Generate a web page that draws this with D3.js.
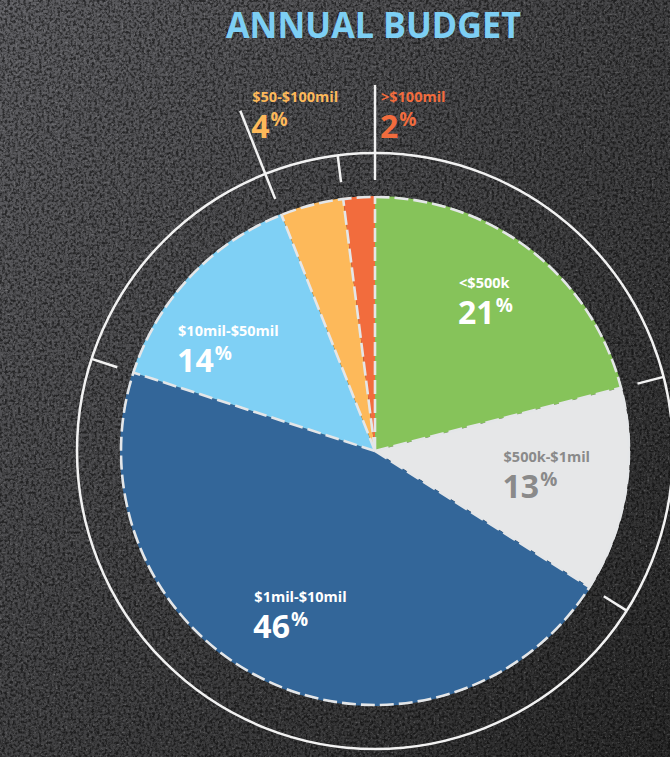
<!DOCTYPE html>
<html><head><meta charset="utf-8">
<script src="https://cdn.jsdelivr.net/npm/d3@7"></script>
<style>html,body{margin:0;padding:0;background:#3a3a3a;overflow:hidden}svg{display:block}</style>
</head><body>
<svg id="chart" width="670" height="757"></svg>
<script>
const title = "ANNUAL BUDGET";
const categories = ["<$500k", "$500k-$1mil", "$1mil-$10mil", "$10mil-$50mil", "$50-$100mil", ">$100mil"];
const values = [21, 13, 46, 14, 4, 2];
const sliceColors = ["#86c35a", "#e6e7e8", "#336699", "#7fd0f5", "#fdb95a", "#f26c3d"];
const labelColors = ["#ffffff", "#8a8a8a", "#ffffff", "#ffffff", "#fdb95a", "#f26c3d"];
const outsideLabels = [false, false, false, false, true, true];

const W = 670, H = 757;
const cx = 375, cy = 451, R = 255, ringR = 298;
const svg = d3.select("#chart");
const defs = svg.append("defs");

// background
const bg = defs.append("linearGradient").attr("id", "bg").attr("x1", 0).attr("y1", 0).attr("x2", 1).attr("y2", 1);
bg.append("stop").attr("offset", 0).attr("stop-color", "#606064");
bg.append("stop").attr("offset", 0.45).attr("stop-color", "#464648");
bg.append("stop").attr("offset", 1).attr("stop-color", "#2a2a2a");
const fDark = defs.append("filter").attr("id", "nd").attr("x", 0).attr("y", 0).attr("width", 1).attr("height", 1);
fDark.append("feTurbulence").attr("type", "fractalNoise").attr("baseFrequency", 0.38).attr("numOctaves", 3).attr("seed", 4);
fDark.append("feColorMatrix").attr("type", "matrix").attr("values", "0 0 0 0 0  0 0 0 0 0  0 0 0 0 0  3.2 0 0 0 -1.3");
const fLight = defs.append("filter").attr("id", "nl").attr("x", 0).attr("y", 0).attr("width", 1).attr("height", 1);
fLight.append("feTurbulence").attr("type", "fractalNoise").attr("baseFrequency", 0.5).attr("numOctaves", 2).attr("seed", 11);
fLight.append("feColorMatrix").attr("type", "matrix").attr("values", "0 0 0 0 1  0 0 0 0 1  0 0 0 0 1  -2.6 0 0 0 1.05");
svg.append("rect").attr("width", W).attr("height", H).attr("fill", "url(#bg)");
svg.append("rect").attr("width", W).attr("height", H).attr("filter", "url(#nl)").attr("opacity", 0.3);
svg.append("rect").attr("width", W).attr("height", H).attr("filter", "url(#nd)").attr("opacity", 0.55);

const font = "'Open Sans', 'Noto Sans', sans-serif";

// title
svg.append("text").attr("x", 226).attr("y", 38)
  .attr("font-family", font).attr("font-weight", 700)
  .attr("font-size", 35).attr("fill", "#7dcff4")
  .attr("textLength", 295).attr("lengthAdjust", "spacingAndGlyphs").text(title);

const g = svg.append("g").attr("transform", `translate(${cx},${cy})`);
const pie = d3.pie().sort(null).value(d => d).startAngle(0).endAngle(2 * Math.PI);
const arcs = pie(values);
const arc = d3.arc().innerRadius(0).outerRadius(R);

// outer ring
g.append("circle").attr("r", ringR).attr("fill", "none").attr("stroke", "#f2f2f2").attr("stroke-width", 2.5);

// slices
g.selectAll("path.slice").data(arcs).join("path").attr("class", "slice")
  .attr("d", arc).attr("fill", (d, i) => sliceColors[i]);

// dashed outlines
const pt = (a, r) => [Math.sin(a) * r, -Math.cos(a) * r];
const dash = { stroke: "#e4e6e8", "stroke-width": 2.6, "stroke-dasharray": "14,5" };
const outline = g.append("circle").attr("r", R - 1).attr("fill", "none");
Object.entries(dash).forEach(([k, v]) => outline.attr(k, v));
g.selectAll("line.edge").data(arcs).join("line").attr("class", "edge")
  .attr("x1", 0).attr("y1", 0)
  .attr("x2", d => pt(d.startAngle, R)[0]).attr("y2", d => pt(d.startAngle, R)[1])
  .each(function () { const s = d3.select(this); Object.entries(dash).forEach(([k, v]) => s.attr(k, v)); });

// ticks on outer ring
const tickInner = 271;
const longTick = new Set();
arcs.forEach((d, i) => { if (outsideLabels[i]) { if (i === arcs.length - 1) longTick.add(0); else longTick.add(i); } });
g.selectAll("line.tick").data(arcs).join("line").attr("class", "tick")
  .attr("x1", d => pt(d.startAngle, tickInner)[0]).attr("y1", d => pt(d.startAngle, tickInner)[1])
  .attr("x2", (d, i) => pt(d.startAngle, longTick.has(i) ? 366 : ringR)[0])
  .attr("y2", (d, i) => pt(d.startAngle, longTick.has(i) ? 366 : ringR)[1])
  .attr("stroke", "#f2f2f2").attr("stroke-width", 2.5);

// labels
function label(parent, i) {
  const t = parent.append("g");
  t.append("text").attr("x", 0).attr("y", -1).attr("font-family", font).attr("font-weight", 700)
    .attr("font-size", 14.5).attr("fill", labelColors[i]).text(categories[i]);
  const p = t.append("text").attr("x", -1).attr("y", 35).attr("font-family", font).attr("font-weight", 700)
    .attr("fill", labelColors[i]);
  p.append("tspan").attr("font-size", 32).text(values[i]);
  p.append("tspan").attr("font-size", 19).attr("dy", -12).attr("dx", 1).text("%");
  return t;
}
// small hand-placement nudges (dx, dy) for the inside labels
const nudge = [[2, -9], [-4, -4], [2, 2], [-16, 20]];
arcs.forEach((d, i) => {
  if (!outsideLabels[i]) {
    const mid = (d.startAngle + d.endAngle) / 2;
    const [x, y] = pt(mid, R * 0.7);
    const t = label(g, i);
    const w = t.node().getBBox().width;
    t.attr("transform", `translate(${x - w / 2 + nudge[i][0]},${y - 12 + nudge[i][1]})`);
  } else {
    const a = i === arcs.length - 1 ? d.endAngle : d.startAngle;
    const [x] = pt(a, 366);
    const t = label(g, i);
    t.attr("transform", `translate(${x + (i === arcs.length - 1 ? 6 : 12)},${103 - cy})`);
  }
});
</script>
</body></html>
